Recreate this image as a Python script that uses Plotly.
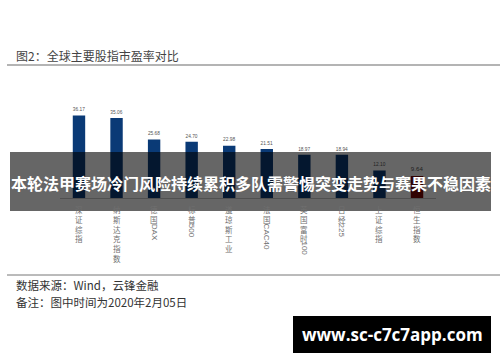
import re
import plotly.graph_objects as go

categories = ["深证综指", "纳斯达克指数", "德国DAX", "标普500", "道琼斯工业",
              "法国CAC40", "英国富时100", "日经225", "上证综指", "恒生指数"]
pe_values = [36.17, 35.06, 25.68, 24.70, 22.98, 21.51, 18.97, 18.94, 12.10, 9.64]
value_labels = ["36.17", "35.06", "25.68", "24.70", "22.98", "21.51", "18.97", "18.94", "12.10", "9.64"]
highlight = "恒生指数"

title_text = "图2：全球主要股指市盈率对比"
source_text = "数据来源：Wind，云锋金融"
note_text = "备注：图中时间为2020年2月05日"
banner_text = "本轮法甲赛场冷门风险持续累积多队需警惕突变走势与赛果不稳因素"
watermark_text = "www.sc-c7c7app.com"

W, H = 500, 362
def py(px):
    return (H - px) / H
def px_(x):
    return x / W

NAVY = "#0a3a76"
RED = "#7a0505"
colors = [RED if c == highlight else NAVY for c in categories]

fig = go.Figure(go.Bar(
    x=categories, y=pe_values, text=value_labels, textposition="outside",
    textfont=dict(size=8, color="#555555", family="Liberation Sans"),
    marker=dict(color=colors, line=dict(width=0)), width=0.33,
    cliponaxis=False, hoverinfo="skip",
))

fig.update_layout(
    width=W, height=H, margin=dict(l=0, r=0, t=0, b=0),
    paper_bgcolor="white", plot_bgcolor="white", showlegend=False,
    xaxis=dict(domain=[px_(60.2), px_(435.8)], showticklabels=False, ticks="",
               showline=True, linecolor="#c8c8c8", linewidth=1, showgrid=False,
               zeroline=False, fixedrange=True),
    yaxis=dict(domain=[py(198), py(100)], range=[0, 43], visible=False,
               showgrid=False, zeroline=False),
)

annotations = []
shapes = []

# category labels: CJK stacked upright, latin/digits rotated
FS = 7.5
LH = 9.2
for cat in categories:
    segs = re.findall(r"[\u4e00-\u9fff]+|[^\u4e00-\u9fff]+", cat)
    y = 202.0
    for s in segs:
        if re.match(r"[\u4e00-\u9fff]", s):
            annotations.append(dict(
                x=cat, xref="x", y=py(y), yref="paper", yanchor="top", xanchor="center",
                text="<br>".join(s), showarrow=False,
                font=dict(size=FS, color="#707070", family="Noto Sans CJK SC")))
            y += len(s) * LH
        else:
            annotations.append(dict(
                x=cat, xref="x", y=py(y + 1), yref="paper", yanchor="top", xanchor="center",
                text=s, textangle=90, showarrow=False,
                font=dict(size=FS + 0.5, color="#707070", family="Liberation Sans")))
            y += len(s) * 5.2

# header
annotations.append(dict(x=px_(14), y=py(55), xref="paper", yref="paper", xanchor="left",
                        yanchor="middle", text=title_text, showarrow=False,
                        font=dict(size=12, color="#444444", family="Noto Sans CJK SC")))
shapes.append(dict(type="line", xref="paper", yref="paper", x0=px_(7), x1=1,
                   y0=py(65), y1=py(65), line=dict(color="#b4b4b4", width=2)))

# footer
shapes.append(dict(type="line", xref="paper", yref="paper", x0=px_(7), x1=1,
                   y0=py(275), y1=py(275), line=dict(color="#777777", width=1)))
annotations.append(dict(x=px_(14), y=py(285), xref="paper", yref="paper", xanchor="left",
                        yanchor="middle", text=source_text, showarrow=False,
                        font=dict(size=11.5, color="#333333", family="Noto Sans CJK SC")))
annotations.append(dict(x=px_(14), y=py(302), xref="paper", yref="paper", xanchor="left",
                        yanchor="middle", text=note_text, showarrow=False,
                        font=dict(size=11.5, color="#333333", family="Noto Sans CJK SC")))

# banner overlay
shapes.append(dict(type="rect", xref="paper", yref="paper", x0=px_(10), x1=px_(491),
                   y0=py(211), y1=py(152), fillcolor="rgba(0,0,0,0.6)", line=dict(width=0),
                   layer="above"))
annotations.append(dict(x=px_(250.5), y=py(183), xref="paper", yref="paper", xanchor="center",
                        yanchor="middle", text="<b>" + banner_text + "</b>", showarrow=False,
                        font=dict(size=16, color="white", family="Noto Sans CJK SC")))

# watermark
shapes.append(dict(type="rect", xref="paper", yref="paper", x0=px_(293), x1=px_(491),
                   y0=py(353), y1=py(316), fillcolor="black", line=dict(width=0),
                   layer="above"))
annotations.append(dict(x=px_(392), y=py(334.5), xref="paper", yref="paper", xanchor="center",
                        yanchor="middle", text="<b>" + watermark_text + "</b>", showarrow=False,
                        font=dict(size=17, color="white", family="Open Sans")))

fig.update_layout(annotations=annotations, shapes=shapes)
fig.write_html("out.html", config={"displayModeBar": False},
               post_script="document.body.style.margin='0';document.body.style.overflow='hidden';")
